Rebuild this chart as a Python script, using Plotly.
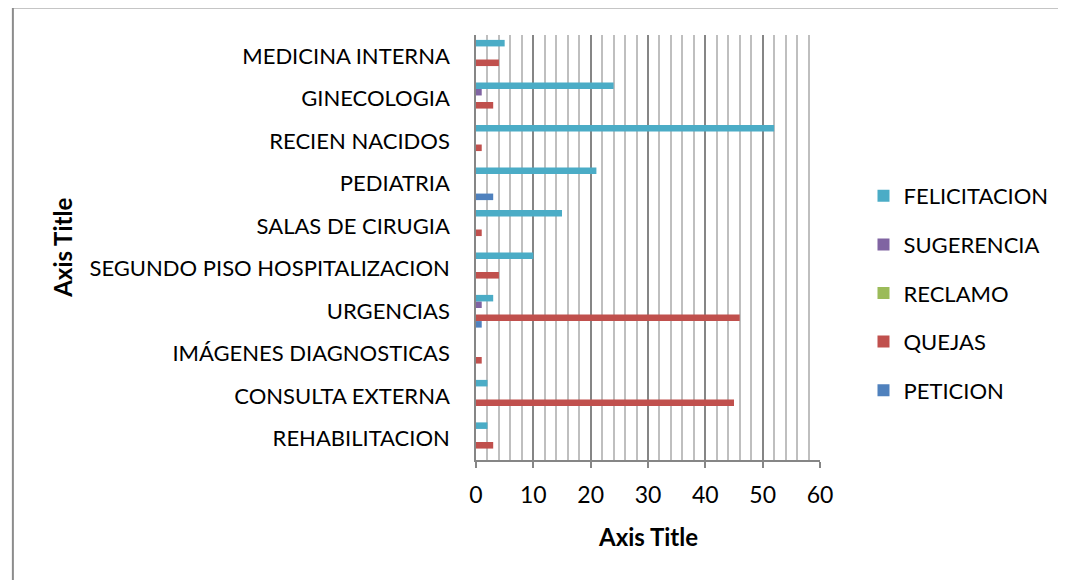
import plotly.graph_objects as go

categories = ["REHABILITACION", "CONSULTA EXTERNA", "IMÁGENES DIAGNOSTICAS", "URGENCIAS",
              "SEGUNDO PISO HOSPITALIZACION", "SALAS DE CIRUGIA", "PEDIATRIA",
              "RECIEN NACIDOS", "GINECOLOGIA", "MEDICINA INTERNA"]
peticion = [0, 0, 0, 1, 0, 0, 3, 0, 0, 0]
quejas = [3, 45, 1, 46, 4, 1, 0, 1, 3, 4]
reclamo = [0, 0, 0, 0, 0, 0, 0, 0, 0, 0]
sugerencia = [0, 0, 0, 1, 0, 0, 0, 0, 1, 0]
felicitacion = [2, 2, 0, 3, 10, 15, 21, 52, 24, 5]
x_ticks = [0, 10, 20, 30, 40, 50, 60]

series = [
    ("PETICION", peticion, "#4F81BD", 5),
    ("QUEJAS", quejas, "#C0504D", 4),
    ("RECLAMO", reclamo, "#9BBB59", 3),
    ("SUGERENCIA", sugerencia, "#8064A2", 2),
    ("FELICITACION", felicitacion, "#4BACC6", 1),
]

FONT = "Lato"
OFF = 8  # page body margin
fig = go.Figure()
for name, vals, col, rank in series:
    fig.add_trace(go.Bar(y=categories, x=vals, name=name, orientation="h",
                         marker=dict(color=col, line=dict(width=0)),
                         legendgroup=name, legendrank=rank))

L, R, T, B = 476 - OFF, 824 - OFF, 35 - OFF, 460 - OFF
W, H = 1066 - OFF, 580 - OFF
PW, PH = R - L, B - T


def px(xp):
    return (xp - OFF - L) / PW


def py(yp):
    return 1 - (yp - OFF - T) / PH


fig.update_layout(
    width=W, height=H,
    margin=dict(l=L, r=W - R, t=T, b=H - B, pad=0),
    paper_bgcolor="white", plot_bgcolor="white",
    barmode="group", bargap=0.23, bargroupgap=0,
    font=dict(family=FONT, size=22, color="black"),
    showlegend=True,
    legend=dict(x=px(868), xanchor="left", y=py(175), yanchor="top",
                traceorder="grouped", tracegroupgap=17,
                font=dict(family=FONT, size=22, color="black"), itemwidth=30),
)
fig.update_xaxes(range=[0, 60], tickvals=x_ticks, ticktext=[str(v) for v in x_ticks],
                 showgrid=True, gridcolor="#868686", gridwidth=1.5,
                 minor=dict(dtick=2, showgrid=True, gridcolor="#BFBFBF", gridwidth=1.5),
                 showline=True, linecolor="#868686", linewidth=1.5,
                 ticks="outside", ticklen=6, tickcolor="#868686", tickwidth=1.5,
                 ticklabelstandoff=8,
                 tickfont=dict(family=FONT, size=23), zeroline=False, fixedrange=True)
fig.update_yaxes(categoryorder="array", categoryarray=categories,
                 showgrid=False, showline=True, linecolor="#868686", linewidth=1.5,
                 ticks="", ticklabelstandoff=20,
                 tickfont=dict(family=FONT, size=22), fixedrange=True)

fig.add_annotation(text="<b>Axis Title</b>", xref="paper", yref="paper",
                   x=px(650), y=py(536), showarrow=False,
                   font=dict(family=FONT, size=24), xanchor="center", yanchor="middle")
fig.add_annotation(text="<b>Axis Title</b>", xref="paper", yref="paper",
                   x=px(57), y=py(248), showarrow=False, textangle=-90,
                   font=dict(family=FONT, size=24), xanchor="center", yanchor="middle")

# chart area border (top and left visible)
bx = px(7.5)
by = py(7.5)
fig.add_shape(type="line", xref="paper", yref="paper", x0=bx, x1=px(1075), y0=by, y1=by,
              line=dict(color="#8C8C8C", width=2))
fig.add_shape(type="line", xref="paper", yref="paper", x0=bx, x1=bx, y0=by, y1=py(590),
              line=dict(color="#8C8C8C", width=2))

fig.write_html("out.html")
